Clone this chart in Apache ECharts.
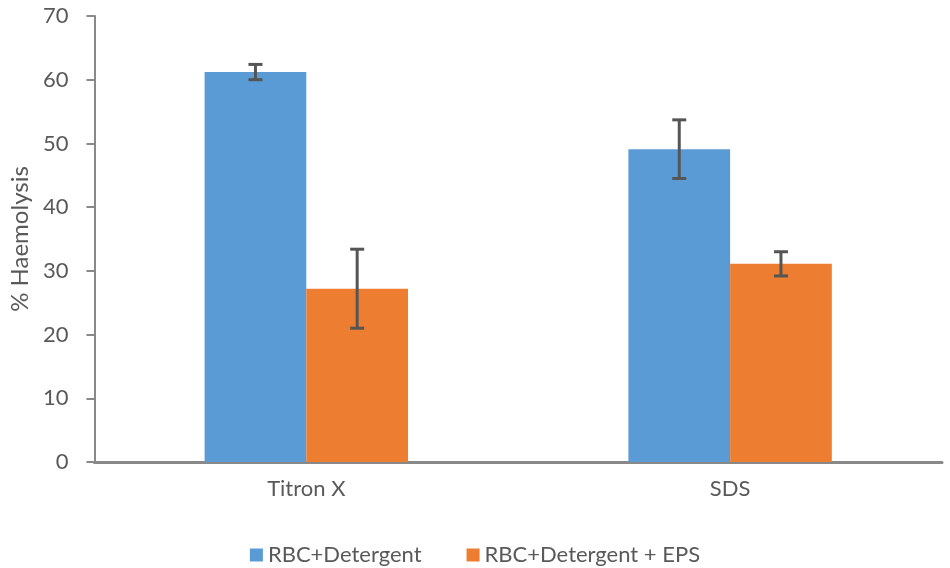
<!DOCTYPE html>
<html>
<head>
<meta charset="utf-8">
<script src="https://cdn.jsdelivr.net/npm/echarts@6/dist/echarts.min.js"></script>
<style>html,body{margin:0;padding:0;background:#fff}#c{width:950px;height:568px}</style>
</head>
<body>
<div id="c"></div>
<script>
var categories = ['Titron X', 'SDS'];
var seriesNames = ['RBC+Detergent', 'RBC+Detergent + EPS'];
var detergent = [61.2, 49.1];
var detergentErr = [1.2, 4.6];
var detergentEps = [27.2, 31.1];
var detergentEpsErr = [6.2, 1.9];
var colors = ['#5B9BD5', '#ED7D31'];
var FONT = 'Lato';

var chart = echarts.init(document.getElementById('c'));

function errSeries(vals, errs, side) {
  var data = vals.map(function (v, i) { return [i, v - errs[i], v + errs[i]]; });
  return {
    type: 'custom',
    name: 'err' + side,
    z: 10,
    silent: true,
    data: data,
    renderItem: function (params, api) {
      var x = api.value(0);
      var lo = api.coord([x, api.value(1)]);
      var hi = api.coord([x, api.value(2)]);
      var band = api.size([1, 0])[0];
      var cx = lo[0] + side * band * 0.12;
      var cap = 7;
      var st = { stroke: '#555555', lineWidth: 3 };
      return {
        type: 'group',
        children: [
          { type: 'line', shape: { x1: cx, y1: lo[1], x2: cx, y2: hi[1] }, style: st },
          { type: 'line', shape: { x1: cx - cap, y1: lo[1], x2: cx + cap, y2: lo[1] }, style: st },
          { type: 'line', shape: { x1: cx - cap, y1: hi[1], x2: cx + cap, y2: hi[1] }, style: st }
        ]
      };
    }
  };
}

chart.setOption({
  animation: false,
  textStyle: { fontFamily: FONT },
  grid: { left: 90, right: 8, top: 16, bottom: 106 },
  legend: {
    data: seriesNames,
    top: 539,
    left: 'center',
    itemWidth: 13,
    itemHeight: 13,
    itemGap: 45,
    icon: 'rect',
    textStyle: { fontFamily: FONT, fontSize: 22, color: '#595959' }
  },
  xAxis: {
    type: 'category',
    data: categories,
    axisLine: { lineStyle: { color: '#898989', width: 3 } },
    axisTick: { alignWithLabel: true, length: 7, lineStyle: { color: '#898989', width: 2 } },
    axisLabel: { fontFamily: FONT, fontSize: 22, color: '#595959', margin: 16 }
  },
  yAxis: {
    type: 'value',
    min: 0, max: 70, interval: 10,
    name: '% Haemolysis',
    nameLocation: 'middle',
    nameGap: 62,
    nameTextStyle: { fontFamily: FONT, fontSize: 24, color: '#595959' },
    splitLine: { show: false },
    axisLine: { show: true, lineStyle: { color: '#898989', width: 2 } },
    axisTick: { show: true, length: 8, lineStyle: { color: '#898989', width: 2 } },
    axisLabel: { fontFamily: FONT, fontSize: 22, color: '#595959', margin: 26 }
  },
  series: [
    { name: seriesNames[0], type: 'bar', data: detergent, barWidth: '24%', barGap: '0%', itemStyle: { color: colors[0] } },
    { name: seriesNames[1], type: 'bar', data: detergentEps, barWidth: '24%', barGap: '0%', itemStyle: { color: colors[1] } },
    errSeries(detergent, detergentErr, -1),
    errSeries(detergentEps, detergentEpsErr, 1)
  ]
});
</script>
</body>
</html>
